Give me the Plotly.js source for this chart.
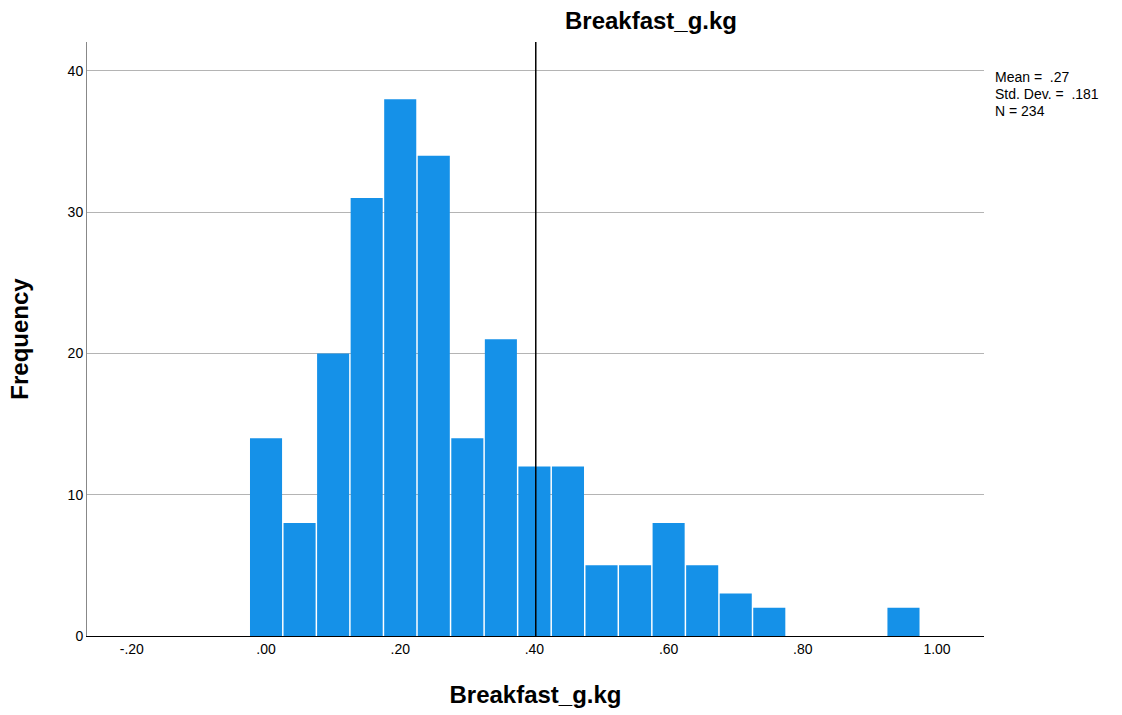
<!DOCTYPE html>
<html>
<head>
<meta charset="utf-8">
<script src="https://cdn.plot.ly/plotly-3.0.1.min.js"></script>
<style>body{margin:0;background:#fff;} #chart{width:1122px;height:715px;}</style>
</head>
<body>
<div id="chart"></div>
<script>
// Bin centers (Breakfast_g.kg) and frequencies
const binCenters = [0.00, 0.05, 0.10, 0.15, 0.20, 0.25, 0.30, 0.35, 0.40, 0.45, 0.50, 0.55, 0.60, 0.65, 0.70, 0.75, 0.80, 0.85, 0.90, 0.95];
const frequencies = [14, 8, 20, 31, 38, 34, 14, 21, 12, 12, 5, 5, 8, 5, 3, 2, 0, 0, 0, 2];
const xTickVals = [-0.2, 0, 0.2, 0.4, 0.6, 0.8, 1.0];
const xTickText = ["-.20", ".00", ".20", ".40", ".60", ".80", "1.00"];
const yTickVals = [0, 10, 20, 30, 40];
const refLineX = 0.402;
const statsLines = ["Mean = &nbsp;.27", "Std. Dev. = &nbsp;.181", "N = 234"];

const font = "Liberation Sans, Arial, sans-serif";

const trace = {
  type: "bar",
  x: binCenters,
  y: frequencies,
  width: 0.0478,
  marker: {color: "#1591e8", line: {width: 0}},
  hoverinfo: "x+y"
};

const statsAnnotations = statsLines.map((t, i) => ({
  xref: "paper", yref: "paper",
  x: 1 + (993 - 984) / 897, y: 1 - (77 + i * 16.8 - 42) / 594,
  xanchor: "left", yanchor: "middle", align: "left",
  showarrow: false,
  text: t,
  font: {family: font, size: 14, color: "#000"}
}));

const layout = {
  width: 1122, height: 715,
  margin: {l: 87, r: 138, t: 42, b: 79},
  paper_bgcolor: "#fff", plot_bgcolor: "#fff",
  showlegend: false,
  font: {family: font, color: "#000", size: 14},
  title: {text: "<b>Breakfast_g.kg</b>", font: {family: font, size: 24, color: "#000"},
          x: 651/1122, xanchor: "center", y: 1 - 21/715, yanchor: "middle"},
  xaxis: {
    range: [-0.2668, 1.070],
    tickvals: xTickVals, ticktext: xTickText,
    showgrid: false, zeroline: false,
    showline: true, linecolor: "#000", linewidth: 1,
    ticks: "", tickfont: {family: font, size: 14, color: "#000"},
    title: {text: "<b>Breakfast_g.kg</b>", font: {family: font, size: 24, color: "#000"}, standoff: 30}
  },
  yaxis: {
    range: [0, 42.05],
    tickvals: yTickVals,
    showgrid: true, gridcolor: "#b4b4b4", gridwidth: 1,
    zeroline: false,
    showline: true, linecolor: "#888", linewidth: 1,
    ticks: "", ticklen: 0, tickfont: {family: font, size: 14, color: "#000"},
    title: {text: "<b>Frequency</b>", font: {family: font, size: 24, color: "#000"}, standoff: 32}
  },
  shapes: [{
    type: "line", xref: "x", yref: "paper",
    x0: refLineX, x1: refLineX, y0: 0, y1: 1,
    line: {color: "#000", width: 1.5}
  }],
  annotations: statsAnnotations
};

Plotly.newPlot("chart", [trace], layout, {displayModeBar: false, staticPlot: true});
</script>
</body>
</html>
